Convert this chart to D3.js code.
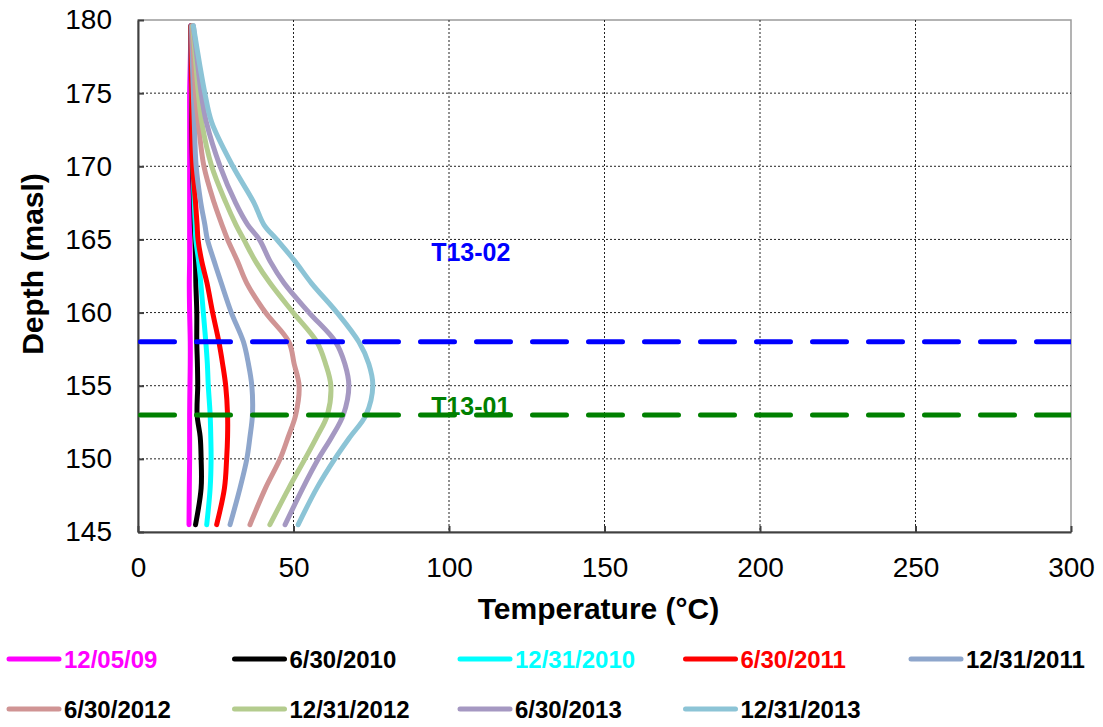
<!DOCTYPE html>
<html>
<head>
<meta charset="utf-8">
<script src="https://cdn.jsdelivr.net/npm/d3@7"></script>
<style>
  body { margin: 0; background: #fff; }
  svg { display: block; font-family: "Liberation Sans", Arial, sans-serif; }
  .axis path, .axis line { stroke: #404040; stroke-width: 2; }
</style>
</head>
<body>
<svg id="chart" width="1103" height="727"></svg>
<script>
// depth points (masl) shared by all profiles
const depths = [179.6, 177, 175, 173, 170, 167.5, 166, 165, 163.5, 162, 160, 158, 156.5, 155, 153, 151.5, 150, 148, 145.5];

// temperature profiles (°C), one per survey date
const t_120509  = [17.0, 16.8, 16.6, 16.6, 16.6, 16.6, 16.6, 16.6, 16.6, 16.5, 16.6, 16.8, 16.8, 16.7, 16.6, 16.6, 16.6, 16.5, 16.4];
const t_063010  = [17.0, 17.1, 17.2, 17.3, 17.5, 17.9, 18.1, 18.3, 18.5, 18.6, 18.9, 18.9, 19.1, 19.2, 19.0, 20.0, 20.3, 20.3, 18.5];
const t_123110  = [17.0, 17.1, 17.3, 17.5, 17.7, 18.1, 18.4, 18.6, 19.5, 20.2, 21.0, 21.8, 22.3, 22.6, 23.2, 23.4, 23.5, 23.2, 22.1];
const t_063011  = [17.0, 17.1, 17.3, 17.4, 17.6, 18.5, 19.0, 19.3, 20.5, 22.2, 24.0, 26.0, 27.2, 28.2, 28.8, 28.8, 28.5, 27.8, 25.3];
const t_123111  = [17.2, 17.5, 17.8, 18.1, 18.7, 20.2, 21.5, 22.3, 24.5, 26.8, 30.0, 33.9, 35.5, 36.6, 36.8, 36.0, 35.0, 32.8, 29.6];
const t_063012  = [17.4, 18.0, 18.5, 19.4, 21.2, 24.5, 27.0, 28.8, 32.0, 35.0, 41.0, 48.5, 50.2, 51.8, 50.7, 48.3, 45.7, 41.0, 36.0];
const t_123112  = [17.6, 18.6, 19.4, 20.5, 23.7, 28.3, 31.5, 34.0, 37.8, 42.5, 49.9, 57.5, 60.3, 62.0, 60.9, 57.5, 53.7, 48.5, 42.4];
const t_063013  = [17.8, 19.2, 20.3, 22.0, 26.4, 31.4, 35.3, 39.0, 42.5, 47.0, 55.0, 63.5, 66.5, 67.8, 66.0, 62.3, 58.0, 53.0, 47.3];
const t_123113  = [17.8, 19.8, 21.5, 23.7, 30.5, 37.3, 40.5, 44.6, 50.5, 55.8, 64.0, 71.0, 74.2, 75.5, 73.3, 68.2, 63.3, 57.5, 51.5];

const seriesNames  = ['12/05/09', '6/30/2010', '12/31/2010', '6/30/2011', '12/31/2011', '6/30/2012', '12/31/2012', '6/30/2013', '12/31/2013'];
const seriesValues = [t_120509, t_063010, t_123110, t_063011, t_123111, t_063012, t_123112, t_063013, t_123113];
const seriesColours = ['#ff00ff', '#000000', '#00ffff', '#ff0000', '#8ea6cc', '#d09494', '#b4cc8e', '#a598c2', '#8cc4d6'];
const labelColours  = ['#ff00ff', '#000000', '#00ffff', '#ff0000', '#000000', '#000000', '#000000', '#000000', '#000000'];

// well markers
const wellNames  = ['T13-02', 'T13-01'];
const wellDepths = [158, 153];
const wellColours = ['#0000ff', '#008000'];
const wellLabelT = [107, 107];
const wellLabelDepth = [163.5, 153];

const xTicks = [0, 50, 100, 150, 200, 250, 300];
const yTicks = [145, 150, 155, 160, 165, 170, 175, 180];

const svg = d3.select('#chart');
const margin = {top: 20, right: 32, bottom: 195, left: 138};
const width = +svg.attr('width'), height = +svg.attr('height');
const innerWidth = width - margin.left - margin.right;
const innerHeight = height - margin.top - margin.bottom;

const xScale = d3.scaleLinear().domain([0, 300]).range([margin.left, margin.left + innerWidth]);
const yScale = d3.scaleLinear().domain([145, 180]).range([margin.top + innerHeight, margin.top]);

svg.append('defs').append('clipPath').attr('id', 'plot-clip')
  .append('rect')
    .attr('x', margin.left).attr('y', margin.top)
    .attr('width', innerWidth).attr('height', innerHeight);

// Plot frame
svg.append('rect')
  .attr('x', margin.left).attr('y', margin.top)
  .attr('width', innerWidth).attr('height', innerHeight)
  .attr('fill', 'none').attr('stroke', '#9a9a9a').attr('stroke-width', 1.5);

// Dotted gridlines
svg.append('g').selectAll('line.vgrid').data(xTicks.slice(1, -1)).join('line')
  .attr('class', 'vgrid')
  .attr('x1', d => xScale(d)).attr('x2', d => xScale(d))
  .attr('y1', margin.top).attr('y2', margin.top + innerHeight)
  .attr('stroke', '#222').attr('stroke-width', 1).attr('stroke-dasharray', '2,2');
svg.append('g').selectAll('line.hgrid').data(yTicks.slice(1, -1)).join('line')
  .attr('class', 'hgrid')
  .attr('y1', d => yScale(d)).attr('y2', d => yScale(d))
  .attr('x1', margin.left).attr('x2', margin.left + innerWidth)
  .attr('stroke', '#222').attr('stroke-width', 1).attr('stroke-dasharray', '2,2');

// Axes (ticks point inwards)
const xAxis = d3.axisBottom(xScale).tickValues(xTicks).tickSizeInner(-6).tickSizeOuter(0).tickPadding(25);
const yAxis = d3.axisLeft(yScale).tickValues(yTicks).tickSizeInner(-6).tickSizeOuter(0).tickPadding(26);

svg.append('g').attr('class', 'axis x-axis')
  .attr('transform', `translate(0,${margin.top + innerHeight})`)
  .call(xAxis)
  .attr('font-family', '"Liberation Sans", Arial, sans-serif')
  .attr('font-size', 28)
  .call(g => g.selectAll('text').attr('fill', '#000'));

svg.append('g').attr('class', 'axis y-axis')
  .attr('transform', `translate(${margin.left},0)`)
  .call(yAxis)
  .attr('font-family', '"Liberation Sans", Arial, sans-serif')
  .attr('font-size', 28)
  .call(g => g.selectAll('text').attr('fill', '#000'));

// Axis titles
svg.append('text')
  .attr('x', margin.left + innerWidth / 2 - 6)
  .attr('y', 619)
  .attr('text-anchor', 'middle')
  .attr('font-size', 30).attr('font-weight', 'bold')
  .text('Temperature (°C)');

svg.append('text')
  .attr('transform', `translate(43,${margin.top + innerHeight / 2 - 12}) rotate(-90)`)
  .attr('text-anchor', 'middle')
  .attr('font-size', 30).attr('font-weight', 'bold')
  .text('Depth (masl)');

// Well labels
svg.append('g').selectAll('text.well').data(wellNames).join('text')
  .attr('class', 'well')
  .attr('x', (d, i) => xScale(wellLabelT[i]))
  .attr('y', (d, i) => yScale(wellLabelDepth[i]))
  .attr('text-anchor', 'middle')
  .attr('font-size', 25).attr('font-weight', 'bold')
  .attr('fill', (d, i) => wellColours[i])
  .text(d => d);

// Profiles
const lineGen = d3.line()
  .x(d => xScale(d[0]))
  .y(d => yScale(d[1]))
  .curve(d3.curveCatmullRom.alpha(0.5));

svg.append('g').selectAll('path.profile').data(seriesValues).join('path')
  .attr('class', 'profile')
  .attr('d', vals => lineGen(vals.map((t, i) => [t, depths[i]])))
  .attr('fill', 'none')
  .attr('stroke', (d, i) => seriesColours[i])
  .attr('stroke-width', 5)
  .attr('stroke-linecap', 'round')
  .attr('stroke-linejoin', 'round');

// Dashed well lines
svg.append('g').attr('clip-path', 'url(#plot-clip)')
  .selectAll('line.well-line').data(wellDepths).join('line')
  .attr('class', 'well-line')
  .attr('x1', xScale(0) + 2.5).attr('x2', xScale(300))
  .attr('y1', d => yScale(d)).attr('y2', d => yScale(d))
  .attr('stroke', (d, i) => wellColours[i])
  .attr('stroke-width', 5)
  .attr('stroke-linecap', 'round')
  .attr('stroke-dasharray', '34,22');

// Legend
const legend = svg.append('g').attr('class', 'legend');
const legendItems = legend.selectAll('g.item').data(seriesNames).join('g')
  .attr('class', 'item')
  .attr('transform', (d, i) => `translate(${7 + (i % 5) * 225.5},${i < 5 ? 659 : 709})`);
legendItems.append('line')
  .attr('x1', 2).attr('x2', 52)
  .attr('stroke', (d, i) => seriesColours[i])
  .attr('stroke-width', 5)
  .attr('stroke-linecap', 'round');
legendItems.append('text')
  .attr('x', 57).attr('y', 8.5)
  .attr('font-size', 24).attr('font-weight', 'bold')
  .attr('fill', (d, i) => labelColours[i])
  .text(d => d);
</script>
</body>
</html>
